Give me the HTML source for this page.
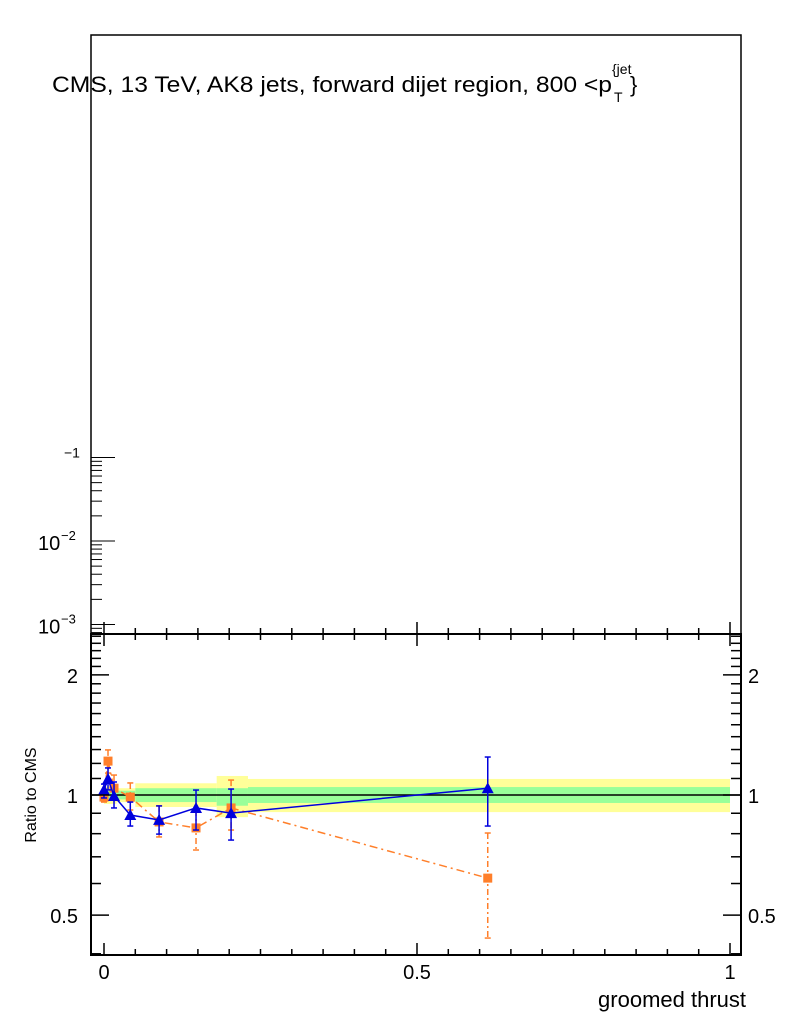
<!DOCTYPE html>
<html><head><meta charset="utf-8"><style>
body{margin:0;background:#fff}
svg{display:block;font-family:"Liberation Sans",sans-serif}
</style></head><body>
<svg id="c" width="786" height="1024" viewBox="0 0 786 1024" xmlns="http://www.w3.org/2000/svg">
<rect width="786" height="1024" fill="#fff"/>
<g id="bands"></g>
<g id="marks"></g>
<g id="axes" stroke="#000" fill="none"></g>
<text x="52" y="92" font-size="22" textLength="560" lengthAdjust="spacingAndGlyphs" fill="#000">CMS, 13 TeV, AK8 jets, forward dijet region, 800 &lt;p</text>
<text x="612" y="74" font-size="14">{jet</text>
<text x="614" y="102" font-size="14">T</text>
<text x="630" y="92" font-size="22">}</text>
<text x="746" y="1007" font-size="22" text-anchor="end">groomed thrust</text>
<text transform="translate(36,795) rotate(-90)" font-size="16" text-anchor="middle">Ratio to CMS</text>
</svg>
<script>
const binEdges=[0,0.02,0.05,0.18,0.23,1.0];
const yellowHi=[1.05,1.04,1.07,1.116,1.097];
const yellowLo=[0.95,0.96,0.933,0.88,0.906];
const greenHi=[1.03,1.025,1.04,1.04,1.047];
const greenLo=[0.97,0.975,0.96,0.94,0.955];
const blueX=[0.0,0.0064,0.016,0.042,0.088,0.147,0.203,0.613];
const blueY=[1.03,1.097,0.994,0.891,0.866,0.928,0.901,1.04];
const blueHi=[1.065,1.169,1.078,0.96,0.939,1.029,1.035,1.245];
const blueLo=[0.983,1.03,0.928,0.836,0.798,0.817,0.771,0.836];
const orX=[0.0,0.0064,0.016,0.042,0.088,0.147,0.203,0.613];
const orY=[0.988,1.216,1.04,0.988,0.856,0.827,0.928,0.619];
const orHi=[1.017,1.297,1.122,1.072,0.939,0.917,1.09,0.803];
const orLo=[0.96,1.135,0.971,0.917,0.785,0.728,0.817,0.438];
const xTicks=[0,0.5,1];
const xTickLabels=["0","0.5","1"];
const rTicks=[0.5,1,2];
const rTickLabels=["0.5","1","2"];
const NS="http://www.w3.org/2000/svg";
const L=91,R=741,T=35,M=634,B=955;
const X=v=>104+626*v;
const Y=r=>795-399*Math.log10(r);
const LY=d=>541-83.5*(d+2);
function mk(p,tag,a){const e=document.createElementNS(NS,tag);for(const k in a)e.setAttribute(k,a[k]);document.getElementById(p).appendChild(e);return e;}
for(let i=0;i<binEdges.length-1;i++){
 const x0=X(binEdges[i]),x1=X(binEdges[i+1]);
 const y=mk('bands','rect',{x:x0,y:Y(yellowHi[i]),width:x1-x0,height:Y(yellowLo[i])-Y(yellowHi[i]),fill:'#ffff99'});
 
 
 const g=mk('bands','rect',{x:x0,y:Y(greenHi[i]),width:x1-x0,height:Y(greenLo[i])-Y(greenHi[i]),fill:'#99ff99'});
 
 
}
const one=mk('bands','line',{x1:L,x2:R,y1:Y(1),y2:Y(1),stroke:'#000','stroke-width':1.5});


const op=mk('marks','polyline',{points:orX.map((x,i)=>X(x)+','+Y(orY[i])).join(' '),fill:'none',stroke:'#ff7f2a','stroke-width':1.5,'stroke-dasharray':'8,4,2,4'});


orX.forEach((x,i)=>{
 const e=mk('marks','line',{x1:X(x),x2:X(x),y1:Y(orHi[i]),y2:Y(orLo[i]),stroke:'#ff7f2a','stroke-width':1.5,'stroke-dasharray':'6,3,2,3'});
 
 
 [orHi[i],orLo[i]].forEach(v=>mk('marks','line',{x1:X(x)-3,x2:X(x)+3,y1:Y(v),y2:Y(v),stroke:'#ff7f2a','stroke-width':1.5}));
 const p=mk('marks','rect',{x:X(x)-4.5,y:Y(orY[i])-4.5,width:9,height:9,fill:'#ff7f2a'});
 
 
});
const bp=mk('marks','polyline',{points:blueX.map((x,i)=>X(x)+','+Y(blueY[i])).join(' '),fill:'none',stroke:'#0000dd','stroke-width':1.5});


blueX.forEach((x,i)=>{
 const e=mk('marks','line',{x1:X(x),x2:X(x),y1:Y(blueHi[i]),y2:Y(blueLo[i]),stroke:'#0000dd','stroke-width':1.5});
 
 
 [blueHi[i],blueLo[i]].forEach(v=>mk('marks','line',{x1:X(x)-3,x2:X(x)+3,y1:Y(v),y2:Y(v),stroke:'#0000dd','stroke-width':1.5}));
 const cx=X(x),cy=Y(blueY[i]);
 const p=mk('marks','polygon',{points:`${cx},${cy-6} ${cx-6},${cy+5} ${cx+6},${cy+5}`,fill:'#0000dd'});
 
 
});
const f1=mk('axes','rect',{x:L,y:T,width:R-L,height:M-T,'stroke-width':1.5});


const f2=mk('axes','rect',{x:L,y:M,width:R-L,height:B-M,'stroke-width':2});


for(let d=-4;d<=-2;d++){for(let m=1;m<=10;m++){const y=LY(d+Math.log10(m));if(y<T||y>M)continue;mk('axes','line',{x1:L,x2:L+((m==1||m==10)?24:11),y1:y,y2:y,'stroke-width':1});}}
[[-1,"\u22121"],[-2,"10"],[-3,"10"]].forEach(([d,t],i)=>{
 const tx=mk('axes','text',{x:i==0?64:38,y:LY(d)+(i==0?0:9),'font-size':i==0?14:20,fill:'#000',stroke:'none'});tx.textContent=t;
 
 
 if(i>0){const s=mk('axes','text',{x:61,y:LY(d)-1,'font-size':13,fill:'#000',stroke:'none'});s.textContent=d==-2?"\u22122":"\u22123";}
});
for(let k=0;k<=20;k++){const v=k/20;const big=(k%10==0);const h=big?12:6;
 mk('axes','line',{x1:X(v),x2:X(v),y1:B,y2:B-h,'stroke-width':1.5});
 mk('axes','line',{x1:X(v),x2:X(v),y1:M,y2:M+h,'stroke-width':1.5});
 mk('axes','line',{x1:X(v),x2:X(v),y1:M,y2:M-h,'stroke-width':1.5});}
xTicks.forEach((v,i)=>{const t=mk('axes','text',{x:X(v),y:979,'font-size':20,'text-anchor':'middle',fill:'#000',stroke:'none'});t.textContent=xTickLabels[i];
 
 });
for(let k=4;k<=25;k++){const r=k/10,y=Y(r);if(y<M||y>B)continue;const big=(k==5||k==10||k==20);const h=big?18:10;
 mk('axes','line',{x1:L,x2:L+h,y1:y,y2:y,'stroke-width':1.5});
 mk('axes','line',{x1:R,x2:R-h,y1:y,y2:y,'stroke-width':1.5});}
rTicks.forEach((v,i)=>{
 const a=mk('axes','text',{x:78,y:Y(v)+8,'font-size':20,'text-anchor':'end',fill:'#000',stroke:'none'});a.textContent=rTickLabels[i];
 
 
 const b=mk('axes','text',{x:748,y:Y(v)+8,'font-size':20,fill:'#000',stroke:'none'});b.textContent=rTickLabels[i];
 
 
});
</script>
</body></html>
